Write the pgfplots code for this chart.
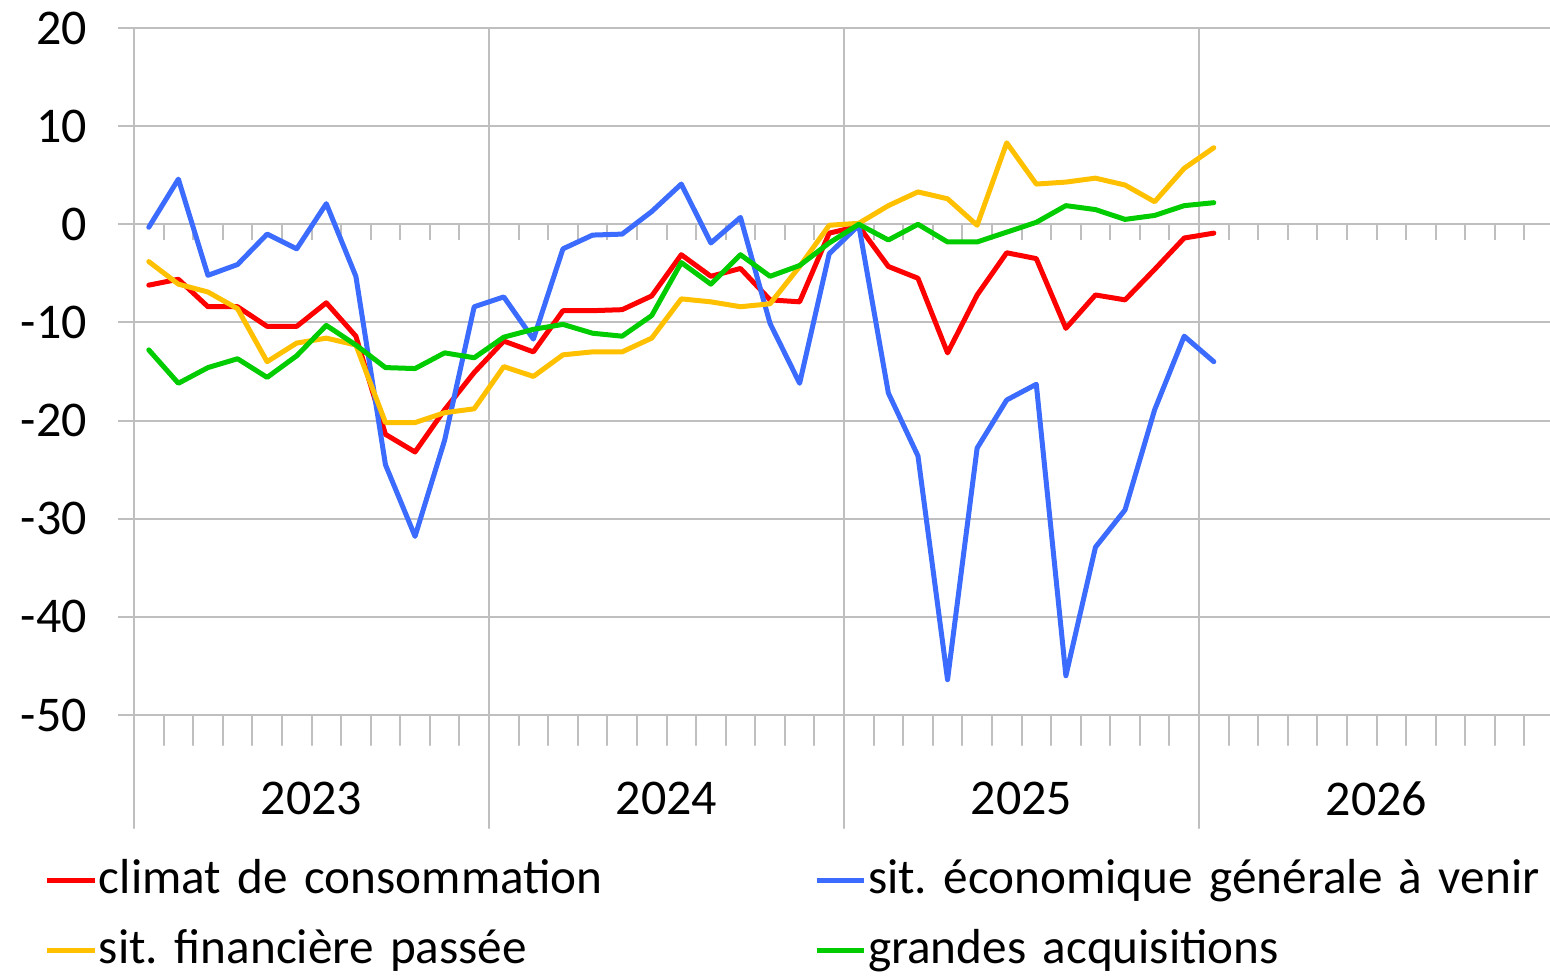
\documentclass[border=0pt]{standalone}
\usepackage{pgfplots}
\pgfplotsset{compat=1.18}
\usepackage{pgfplotstable}
\usepackage{fontspec}
\setmainfont{Carlito}
\frenchspacing

\definecolor{cRed}{HTML}{FF0000}
\definecolor{cBlue}{HTML}{3B6CFF}
\definecolor{cYel}{HTML}{FFC000}
\definecolor{cGrn}{HTML}{00CC00}
\definecolor{cGrid}{HTML}{BFBFBF}

\pgfplotstableread{
x    red    blue   yel    grn
0.5  -6.2   -0.3   -3.8   -12.8
1.5  -5.6    4.6   -6.1   -16.2
2.5  -8.4   -5.2   -6.9   -14.6
3.5  -8.4   -4.1   -8.6   -13.7
4.5  -10.4  -1.0   -14.0  -15.6
5.5  -10.4  -2.5   -12.1  -13.4
6.5  -8.0    2.1   -11.6  -10.3
7.5  -11.4  -5.3   -12.3  -12.3
8.5  -21.4  -24.5  -20.2  -14.6
9.5  -23.2  -31.8  -20.2  -14.7
10.5 -18.9  -22.0  -19.2  -13.1
11.5 -15.1  -8.4   -18.8  -13.6
12.5 -11.9  -7.4   -14.5  -11.5
13.5 -13.0  -11.7  -15.5  -10.7
14.5 -8.8   -2.5   -13.3  -10.2
15.5 -8.8   -1.1   -13.0  -11.1
16.5 -8.7   -1.0   -13.0  -11.4
17.5 -7.3    1.3   -11.6  -9.3
18.5 -3.1    4.1   -7.6   -3.9
19.5 -5.3   -1.9   -7.9   -6.1
20.5 -4.5    0.7   -8.4   -3.1
21.5 -7.7   -10.1  -8.1   -5.3
22.5 -7.9   -16.2  -4.3   -4.2
23.5 -0.9   -3.0   -0.1   -1.9
24.5 -0.2   -0.1    0.1    0.0
25.5 -4.3   -17.2   1.9   -1.6
26.5 -5.5   -23.6   3.3    0.0
27.5 -13.1  -46.4   2.6   -1.8
28.5 -7.2   -22.8  -0.1   -1.8
29.5 -2.9   -17.9   8.3   -0.8
30.5 -3.5   -16.3   4.1    0.2
31.5 -10.6  -46.0   4.3    1.9
32.5 -7.2   -32.9   4.7    1.5
33.5 -7.7   -29.1   4.0    0.5
34.5 -4.6   -18.9   2.3    0.9
35.5 -1.4   -11.4   5.7    1.9
36.5 -0.9   -14.0   7.8    2.2
}\data

\begin{document}
\begin{tikzpicture}
\path[use as bounding box] (-67pt,-130pt) rectangle (708pt,357.5pt);
% zero-line ticks and y tick labels
\begin{axis}[
  at={(0,0)}, anchor=south west,
  scale only axis, width=710pt, height=343.5pt,
  xmin=0, xmax=48, ymin=-50, ymax=20,
  axis x line=middle, axis y line=left,
  axis line style={cGrid, line width=1pt, -},
  tick align=outside,
  xtick={1,...,47}, xticklabels={},
  ytick={-50,-40,...,20},
  yticklabels={-50,-40,-30,-20,-10,0,10,20},
  yticklabel style={xshift=-12pt},
  major tick length=8pt,
  tick style={cGrid, line width=1pt},
  tick label style={font=\fontsize{25}{30}\selectfont, text=black},
]
\addplot[draw=none] coordinates {(1,0)};
\end{axis}
% main axis
\begin{axis}[
  at={(0,0)}, anchor=south west,
  scale only axis, width=710pt, height=343.5pt,
  xmin=0, xmax=48, ymin=-50, ymax=20,
  axis x line*=bottom, axis y line*=left,
  axis line style={cGrid, line width=1pt, -},
  tick align=outside,
  xtick={0,12,24,36,48}, xticklabels={},
  minor x tick num=11,
  major tick length=56.5pt, minor tick length=15pt,
  x tick style={cGrid, line width=1pt},
  xmajorgrids, ymajorgrids,
  grid style={cGrid, line width=1pt},
  ytick={-50,-40,...,20}, yticklabels={},
  y tick style={draw=none},
  extra x ticks={6,18,30,42},
  extra x tick labels={2023,2024,2025,2026},
  extra x tick style={grid=none, major tick length=0pt, tick style={draw=none},
    xticklabel style={yshift=-30pt}},
  tick label style={font=\fontsize{25}{30}\selectfont, text=black},
  legend columns=2,
  legend cell align=left,
  legend image code/.code={\draw[#1, line width=2.5pt] (0pt,0pt) -- (23.5pt,0pt);},
  legend style={at={(axis description cs:0,0)}, anchor=north west,
    xshift=-44.5pt, yshift=-70.25pt, draw=none, fill=none,
    inner sep=0pt, outer sep=0pt,
    font=\fontsize{24.6}{30}\selectfont, row sep=10pt,
    nodes={inner sep=0pt, text height=18.75pt, text depth=6.25pt, text width=357.5pt, align=left},
    /tikz/every odd column/.append style={column sep=1pt}},
  line join=round, line cap=round,
]
\addplot[cRed, line width=2.5pt] table[x=x, y=red] {\data};
\addlegendentry{climat de consommation}
\addplot[cBlue, line width=2.5pt] table[x=x, y=blue] {\data};
\addlegendentry{sit. économique générale à venir}
\addplot[cYel, line width=2.5pt] table[x=x, y=yel] {\data};
\addlegendentry{sit. financière passée}
\addplot[cGrn, line width=2.5pt] table[x=x, y=grn] {\data};
\addlegendentry{grandes acquisitions}
\end{axis}
\end{tikzpicture}
\end{document}
